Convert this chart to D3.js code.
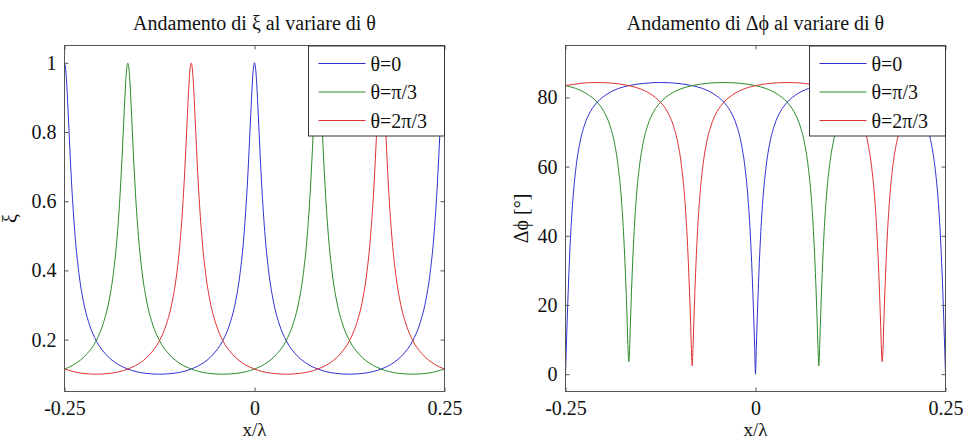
<!DOCTYPE html>
<html>
<head>
<meta charset="utf-8">
<script src="https://cdn.jsdelivr.net/npm/d3@7"></script>
<style>
  body { margin: 0; background: #fff; }
  svg text { font-family: "Liberation Serif", "Times New Roman", serif !important; fill: #111; }
</style>
</head>
<body>
<div id="chart"></div>
<script>
// x positions of the samples for each curve (x/lambda)
const xBlue = [-0.25, -0.249, -0.248, -0.247, -0.245, -0.243, -0.24, -0.236, -0.231, -0.225, -0.217, -0.2083, -0.195, -0.18, -0.1667, -0.145, -0.125,
  -0.105, -0.0833, -0.07, -0.055, -0.0417, -0.033, -0.025, -0.019, -0.014, -0.01, -0.007, -0.005, -0.003, -0.002, -0.001, 0,
  0.001, 0.002, 0.003, 0.005, 0.007, 0.01, 0.014, 0.019, 0.025, 0.033, 0.0417, 0.055, 0.07, 0.0833, 0.105, 0.125,
  0.145, 0.1667, 0.18, 0.195, 0.2083, 0.217, 0.225, 0.231, 0.236, 0.24, 0.243, 0.245, 0.247, 0.248, 0.249, 0.25];
const xGreen = [-0.25, -0.2367, -0.2217, -0.2083, -0.1997, -0.1917, -0.1857, -0.1807, -0.1767, -0.1737, -0.1717, -0.1697, -0.1687, -0.1677, -0.1667,
  -0.1657, -0.1647, -0.1637, -0.1617, -0.1597, -0.1567, -0.1527, -0.1477, -0.1417, -0.1337, -0.125, -0.1117, -0.0967, -0.0833, -0.0617, -0.0417,
  -0.0217, 0, 0.0133, 0.0283, 0.0417, 0.0503, 0.0583, 0.0643, 0.0693, 0.0733, 0.0763, 0.0783, 0.0803, 0.0813, 0.0823, 0.0833,
  0.0843, 0.0853, 0.0863, 0.0883, 0.0903, 0.0933, 0.0973, 0.1023, 0.1083, 0.1163, 0.125, 0.1383, 0.1533, 0.1667, 0.1883, 0.2083,
  0.2283, 0.25];
const xRed = [-0.25, -0.2283, -0.2083,
  -0.1883, -0.1667, -0.1533, -0.1383, -0.125, -0.1163, -0.1083, -0.1023, -0.0973, -0.0933, -0.0903, -0.0883, -0.0863, -0.0853, -0.0843, -0.0833,
  -0.0823, -0.0813, -0.0803, -0.0783, -0.0763, -0.0733, -0.0693, -0.0643, -0.0583, -0.0503, -0.0417, -0.0283, -0.0133, 0, 0.0217, 0.0417,
  0.0617, 0.0833, 0.0967, 0.1117, 0.125, 0.1337, 0.1417, 0.1477, 0.1527, 0.1567, 0.1597, 0.1617, 0.1637, 0.1647, 0.1657, 0.1667,
  0.1677, 0.1687, 0.1697, 0.1717, 0.1737, 0.1767, 0.1807, 0.1857, 0.1917, 0.1997, 0.2083, 0.2217, 0.2367, 0.25];

// xi values (left plot)
const xiBlue = [1, 0.992, 0.970, 0.936, 0.848, 0.753, 0.626, 0.498, 0.391, 0.309, 0.242, 0.197, 0.156, 0.129, 0.115, 0.103, 0.100,
  0.103, 0.115, 0.129, 0.156, 0.197, 0.242, 0.309, 0.391, 0.498, 0.626, 0.753, 0.848, 0.936, 0.970, 0.992, 1,
  0.992, 0.970, 0.936, 0.848, 0.753, 0.626, 0.498, 0.391, 0.309, 0.242, 0.197, 0.156, 0.129, 0.115, 0.103, 0.100,
  0.103, 0.115, 0.129, 0.156, 0.197, 0.242, 0.309, 0.391, 0.498, 0.626, 0.753, 0.848, 0.936, 0.970, 0.992, 1];
const xiGreen = [0.115, 0.129, 0.156, 0.197, 0.242, 0.309, 0.391, 0.498, 0.626, 0.753, 0.848, 0.936, 0.970, 0.992, 0.999,
  0.992, 0.970, 0.936, 0.848, 0.753, 0.626, 0.498, 0.391, 0.309, 0.242, 0.197, 0.156, 0.129, 0.115, 0.103, 0.100,
  0.103, 0.115, 0.129, 0.156, 0.197, 0.242, 0.309, 0.391, 0.498, 0.626, 0.753, 0.848, 0.936, 0.970, 0.992, 0.999,
  0.992, 0.970, 0.936, 0.848, 0.753, 0.626, 0.498, 0.391, 0.309, 0.242, 0.197, 0.156, 0.129, 0.115, 0.103, 0.100,
  0.103, 0.115];
const xiRed = [0.115, 0.103, 0.100,
  0.103, 0.115, 0.129, 0.156, 0.197, 0.242, 0.309, 0.391, 0.498, 0.626, 0.753, 0.848, 0.936, 0.970, 0.992, 0.999,
  0.992, 0.970, 0.936, 0.848, 0.753, 0.626, 0.498, 0.391, 0.309, 0.242, 0.197, 0.156, 0.129, 0.115, 0.103, 0.100,
  0.103, 0.115, 0.129, 0.156, 0.197, 0.242, 0.309, 0.391, 0.498, 0.626, 0.753, 0.848, 0.936, 0.970, 0.992, 0.999,
  0.992, 0.970, 0.936, 0.848, 0.753, 0.626, 0.498, 0.391, 0.309, 0.242, 0.197, 0.156, 0.129, 0.115];

// delta phi values in degrees (right plot)
const phBlue = [0, 7.1, 14.0, 20.6, 32.0, 41.2, 51.3, 60.1, 67.0, 72.0, 76.0, 78.6, 81.0, 82.6, 83.4, 84.1, 84.3,
  84.1, 83.4, 82.6, 81.0, 78.6, 76.0, 72.0, 67.0, 60.1, 51.3, 41.2, 32.0, 20.6, 14.0, 7.1, 0,
  7.1, 14.0, 20.6, 32.0, 41.2, 51.3, 60.1, 67.0, 72.0, 76.0, 78.6, 81.0, 82.6, 83.4, 84.1, 84.3,
  84.1, 83.4, 82.6, 81.0, 78.6, 76.0, 72.0, 67.0, 60.1, 51.3, 41.2, 32.0, 20.6, 14.0, 7.1, 0];
const phGreen = [83.4, 82.6, 81.0, 78.6, 76.0, 72.0, 67.0, 60.1, 51.3, 41.2, 32.0, 20.6, 14.0, 7.1, 3.6,
  7.1, 14.0, 20.6, 32.0, 41.2, 51.3, 60.1, 67.0, 72.0, 76.0, 78.6, 81.0, 82.6, 83.4, 84.1, 84.3,
  84.1, 83.4, 82.6, 81.0, 78.6, 76.0, 72.0, 67.0, 60.1, 51.3, 41.2, 32.0, 20.6, 14.0, 7.1, 2.4,
  7.1, 14.0, 20.6, 32.0, 41.2, 51.3, 60.1, 67.0, 72.0, 76.0, 78.6, 81.0, 82.6, 83.4, 84.1, 84.3,
  84.1, 83.4];
const phRed = [83.4, 84.1, 84.3,
  84.1, 83.4, 82.6, 81.0, 78.6, 76.0, 72.0, 67.0, 60.1, 51.3, 41.2, 32.0, 20.6, 14.0, 7.1, 2.4,
  7.1, 14.0, 20.6, 32.0, 41.2, 51.3, 60.1, 67.0, 72.0, 76.0, 78.6, 81.0, 82.6, 83.4, 84.1, 84.3,
  84.1, 83.4, 82.6, 81.0, 78.6, 76.0, 72.0, 67.0, 60.1, 51.3, 41.2, 32.0, 20.6, 14.0, 7.1, 3.6,
  7.1, 14.0, 20.6, 32.0, 41.2, 51.3, 60.1, 67.0, 72.0, 76.0, 78.6, 81.0, 82.6, 83.4];

const legendLabels = ["θ=0", "θ=π/3", "θ=2π/3"];
const colors = ["#3030d0", "#2a8a2a", "#e03030"];
const xTicks = [-0.25, 0, 0.25];
const xiTicks = [0.2, 0.4, 0.6, 0.8, 1];
const phTicks = [0, 20, 40, 60, 80];

const serif = "Liberation Serif, Times New Roman, serif";

const svg = d3.select("#chart").append("svg")
  .attr("width", 963)
  .attr("height", 439)
  .attr("font-family", serif);

function drawPanel(opt) {
  const g = svg.append("g").attr("transform", `translate(${opt.left},45.5)`);
  const w = 380, h = 346;

  const x = d3.scaleLinear().domain([-0.25, 0.25]).range([0, w]);
  const y = d3.scaleLinear().domain(opt.yDomain).range([h, 0]);

  g.append("clipPath").attr("id", "clip" + opt.id)
    .append("rect").attr("width", w).attr("height", h);

  // curves
  const line = d3.line()
    .x(d => x(d[0]))
    .y(d => y(d[1]))
    .curve(d3.curveMonotoneX);
  opt.series.forEach((s, i) => {
    g.append("path")
      .datum(d3.zip(s.xs, s.ys))
      .attr("clip-path", `url(#clip${opt.id})`)
      .attr("fill", "none")
      .attr("stroke", colors[i])
      .attr("stroke-width", 1)
      .attr("d", line);
  });

  // axes with inward ticks, box on
  const fmt = d => String(d);
  const axisStyle = sel => {
    sel.attr("font-family", serif).attr("font-size", 20);
    sel.select(".domain").remove();
    sel.selectAll(".tick line").attr("stroke", "#555");
    sel.selectAll(".tick text")
      .attr("font-family", serif)
      .style("font-size", "20px");
  };
  g.append("g").attr("transform", `translate(0,${h})`)
    .call(d3.axisBottom(x).tickValues(xTicks).tickSize(-4).tickPadding(9).tickFormat(fmt))
    .call(axisStyle);
  g.append("g")
    .call(d3.axisTop(x).tickValues(xTicks).tickSize(-4).tickFormat(""))
    .call(axisStyle);
  g.append("g")
    .call(d3.axisLeft(y).tickValues(opt.yTicks).tickSize(-4).tickPadding(8).tickFormat(fmt))
    .call(axisStyle);
  g.append("g").attr("transform", `translate(${w},0)`)
    .call(d3.axisRight(y).tickValues(opt.yTicks).tickSize(-4).tickFormat(""))
    .call(axisStyle);

  g.append("rect")
    .attr("width", w).attr("height", h)
    .attr("fill", "none")
    .attr("stroke", "#555")
    .attr("stroke-width", 1);

  // labels
  g.append("text")
    .attr("x", w / 2).attr("y", -16)
    .attr("text-anchor", "middle")
    .style("font-size", "20px")
    .text(opt.title);
  g.append("text")
    .attr("x", w / 2).attr("y", h + 44)
    .attr("text-anchor", "middle")
    .style("font-size", "19px")
    .text("x/λ");
  g.append("text")
    .attr("transform", `translate(${opt.yLabelX},${h / 2}) rotate(-90)`)
    .attr("text-anchor", "middle")
    .style("font-size", "20px")
    .text(opt.yLabel);

  // legend
  const lg = g.append("g").attr("transform", `translate(${w - 136},0.5)`);
  lg.append("rect")
    .attr("width", 136).attr("height", 90)
    .attr("fill", "#fff")
    .attr("stroke", "#333");
  legendLabels.forEach((lab, i) => {
    const ly = 17.5 + i * 28.5;
    lg.append("line")
      .attr("x1", 10).attr("x2", 57)
      .attr("y1", ly).attr("y2", ly)
      .attr("stroke", colors[i]).attr("stroke-width", 1);
    lg.append("text")
      .attr("x", 62).attr("y", ly + 7)
      .attr("font-family", serif)
      .style("font-size", "20px")
      .text(lab);
  });
}

drawPanel({
  id: "xi", left: 64.5,
  yDomain: [0.05, 1.05], yTicks: xiTicks,
  title: "Andamento di ξ al variare di θ",
  yLabel: "ξ", yLabelX: -48,
  series: [
    {xs: xBlue, ys: xiBlue},
    {xs: xGreen, ys: xiGreen},
    {xs: xRed, ys: xiRed}
  ]
});

drawPanel({
  id: "ph", left: 565.5,
  yDomain: [-5, 95], yTicks: phTicks,
  title: "Andamento di Δϕ al variare di θ",
  yLabel: "Δϕ [°]", yLabelX: -38,
  series: [
    {xs: xBlue, ys: phBlue},
    {xs: xGreen, ys: phGreen},
    {xs: xRed, ys: phRed}
  ]
});
</script>
</body>
</html>
